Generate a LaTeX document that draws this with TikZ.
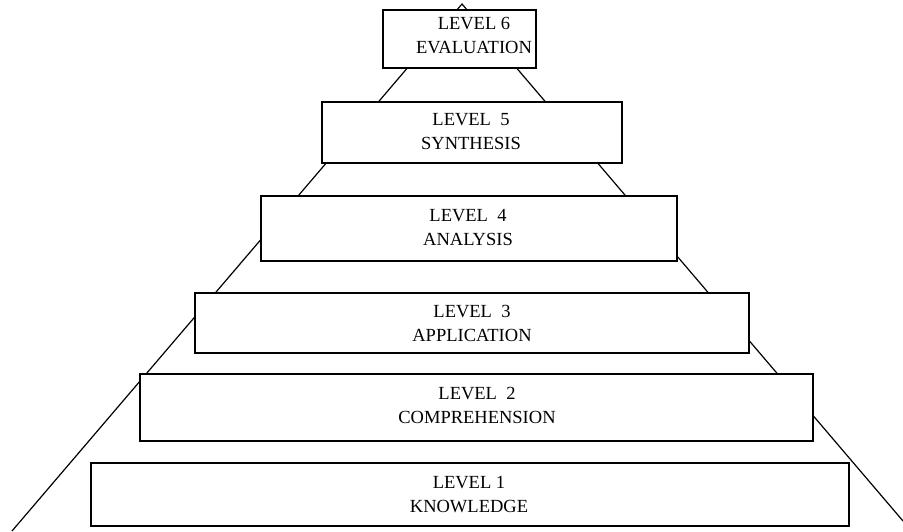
\documentclass[tikz,border=0pt]{standalone}
\usepackage{fontspec}
\setmainfont{Liberation Serif}
\begin{document}
\begin{tikzpicture}[x=1pt,y=-1pt,
  levelbox/.style={draw=black,line width=1.3pt,fill=white,rectangle,inner sep=0pt},
  leveltext/.style={align=center,font=\fontsize{18.5}{24}\selectfont,inner sep=0pt},
  slope/.style={draw=black,line width=1.2pt}]
\useasboundingbox (0,0) rectangle (903,531);
\coordinate (apex) at (462,4);
\coordinate (bl) at (12,531);
\coordinate (br) at (903,521);
\draw[slope] (bl) -- (apex) -- (br);
\node[levelbox,minimum width=758pt,minimum height=63pt] (b1) at (470,494.5) {};
\node[levelbox,minimum width=673pt,minimum height=67pt] (b2) at (476.5,407.5) {};
\node[levelbox,minimum width=554pt,minimum height=60pt] (b3) at (472,323) {};
\node[levelbox,minimum width=416pt,minimum height=65pt] (b4) at (469,228.5) {};
\node[levelbox,minimum width=300pt,minimum height=61pt] (b5) at (472,132.5) {};
\node[levelbox,minimum width=153pt,minimum height=58pt] (b6) at (459.5,39) {};
\node[leveltext] (t1) at (469,495) {LEVEL 1\\KNOWLEDGE};
\node[leveltext] (t2) at (477,405) {LEVEL\ \ 2\\COMPREHENSION};
\node[leveltext] (t3) at (472,323.5) {LEVEL\ \ 3\\APPLICATION};
\node[leveltext] (t4) at (468,227) {LEVEL\ \ 4\\ANALYSIS};
\node[leveltext] (t5) at (471,132) {LEVEL\ \ 5\\SYNTHESIS};
\node[leveltext] (t6) at (474,36) {LEVEL 6\\EVALUATION};
\end{tikzpicture}
\end{document}
